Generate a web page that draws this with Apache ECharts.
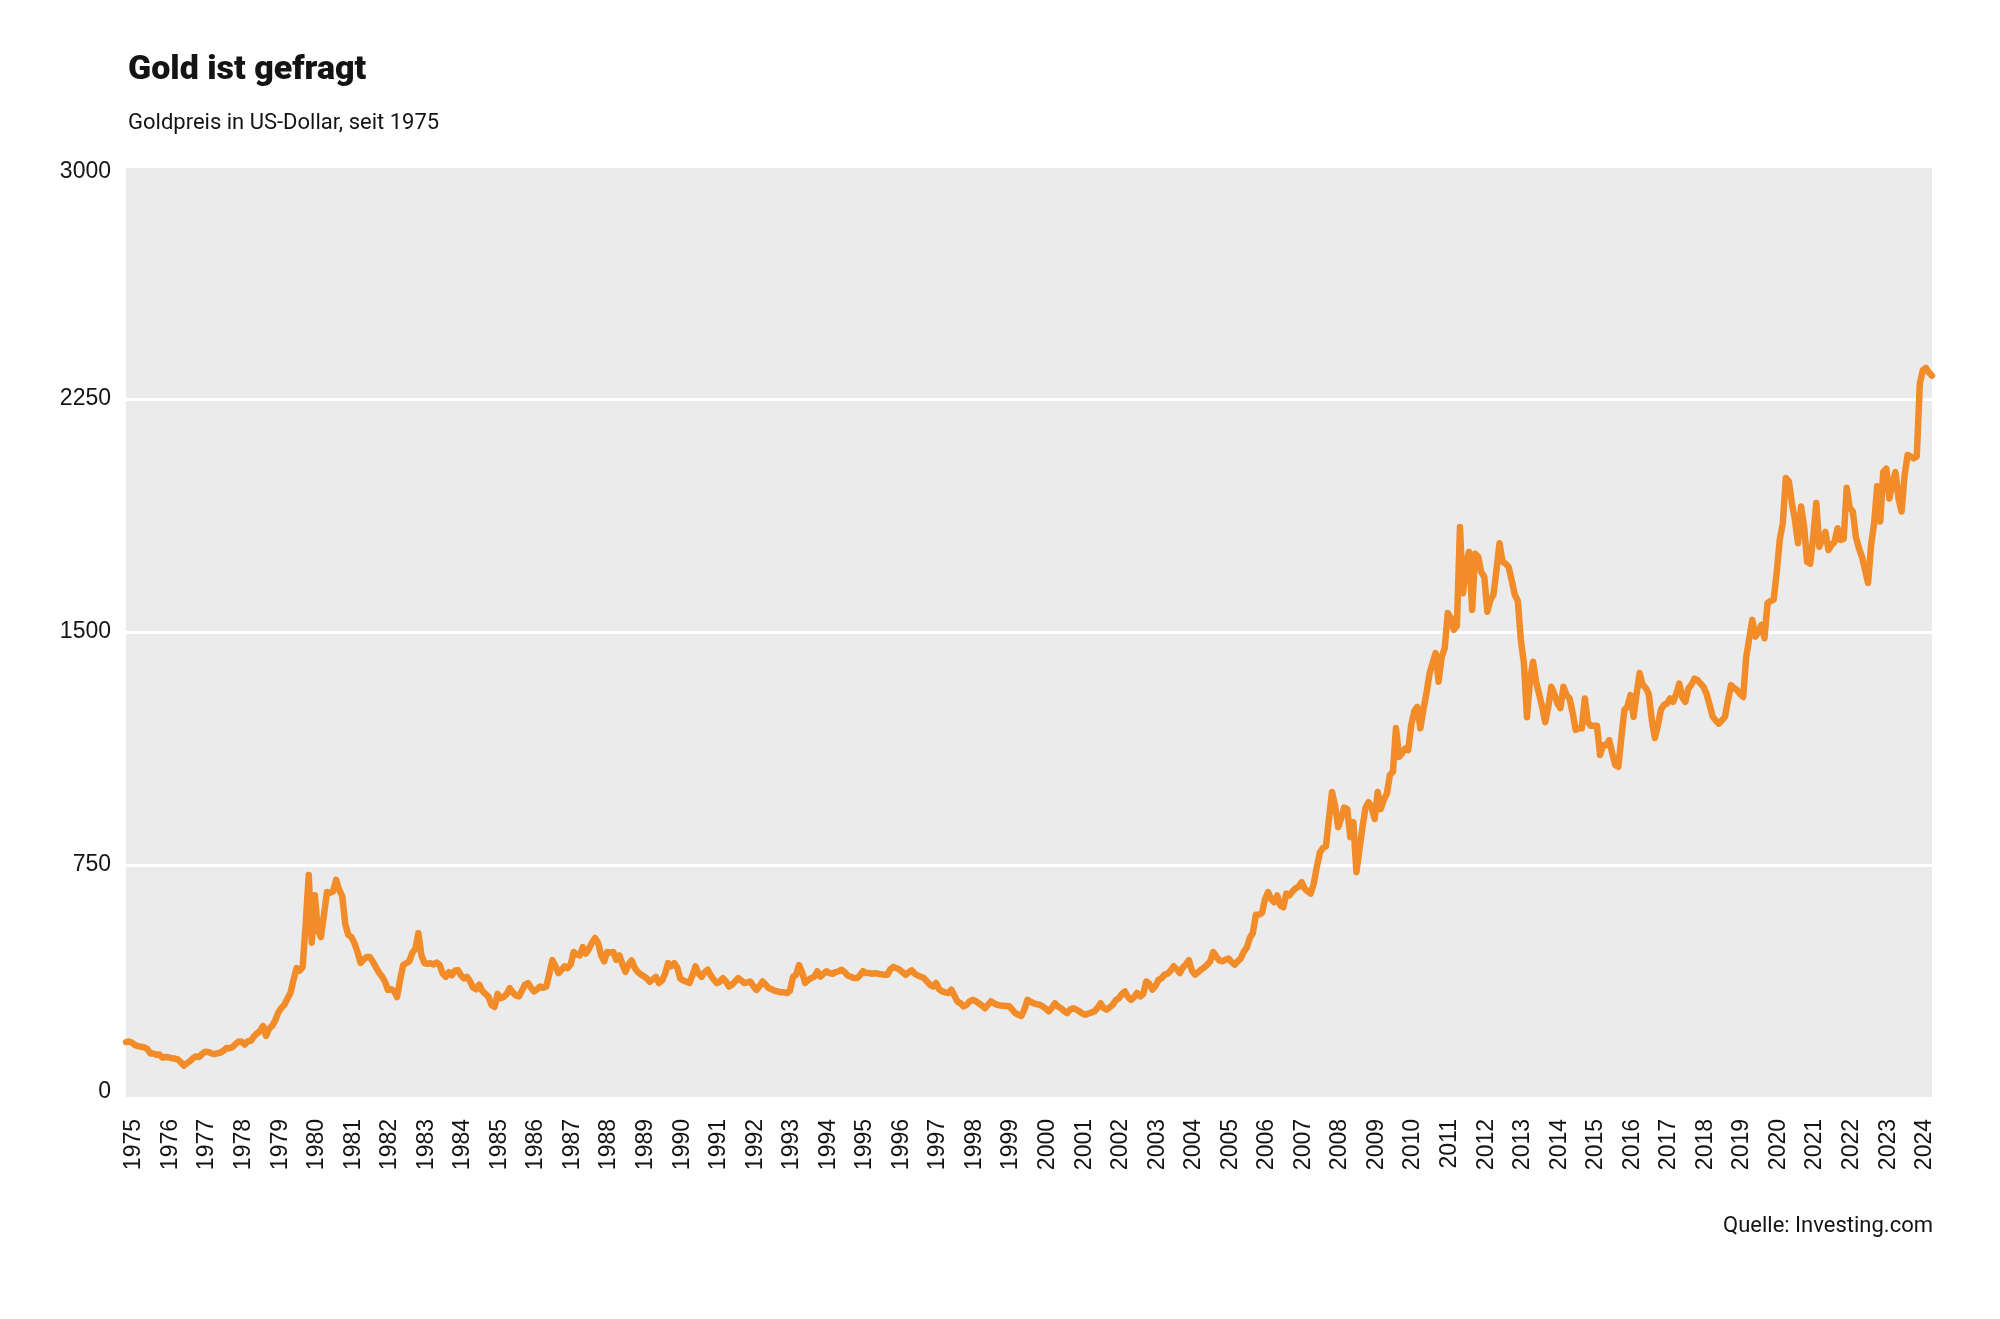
<!DOCTYPE html>
<html lang="de">
<head>
<meta charset="utf-8">
<title>Gold ist gefragt</title>
<script src="https://cdn.jsdelivr.net/npm/echarts@6/dist/echarts.min.js"></script>
<style>
  html, body { margin: 0; padding: 0; background: #fff; }
  #chart { width: 2000px; height: 1319px; }
</style>
</head>
<body>
<div id="chart"></div>
<script>
// Goldpreis in US-Dollar, Monatswerte (Jan..Dez)
const p1975 = [180, 182, 178, 170, 167, 165, 163, 158, 143, 143, 139, 140];
const p1976 = [130, 132, 131, 128, 127, 124, 115, 104, 112, 118, 128, 134];
const p1977 = [132, 142, 149, 148, 144, 141, 144, 146, 152, 161, 160, 164];
const p1978 = [174, 182, 181, 172, 183, 184, 198, 208, 216, 232, 200, 224];
const p1979 = [232, 250, 275, 290, 300, 320, 338, 380, 418, 410, 422, 560];
const p1980 = [718, 500, 653, 540, 518, 590, 663, 660, 665, 702, 670, 650];
const p1981 = [560, 525, 518, 499, 470, 435, 445, 454, 454, 440, 422, 405];
const p1982 = [392, 375, 348, 350, 345, 325, 380, 428, 434, 440, 467, 480];
const p1983 = [531, 460, 434, 432, 434, 430, 436, 428, 400, 390, 405, 395];
const p1984 = [410, 412, 395, 385, 390, 375, 355, 350, 365, 345, 335, 326];
const p1985 = [300, 293, 335, 321, 325, 335, 354, 340, 330, 327, 345, 365];
const p1986 = [370, 355, 343, 350, 359, 355, 359, 400, 444, 425, 402, 412];
const p1987 = [424, 418, 430, 470, 462, 459, 486, 465, 480, 500, 515, 500];
const p1988 = [460, 440, 470, 468, 470, 445, 459, 430, 406, 430, 443, 420];
const p1989 = [406, 398, 392, 385, 374, 382, 390, 370, 378, 400, 434, 424];
const p1990 = [434, 420, 384, 378, 374, 370, 395, 424, 400, 390, 405, 413];
const p1991 = [395, 381, 370, 375, 386, 375, 359, 365, 375, 386, 378, 370];
const p1992 = [372, 375, 360, 348, 360, 375, 365, 354, 350, 345, 343, 340];
const p1993 = [340, 338, 345, 390, 396, 428, 405, 370, 380, 386, 390, 408];
const p1994 = [391, 400, 408, 402, 400, 405, 408, 413, 405, 394, 390, 386];
const p1995 = [386, 395, 408, 402, 402, 400, 402, 400, 398, 397, 397, 415];
const p1996 = [422, 418, 413, 405, 397, 405, 411, 400, 394, 390, 386, 375];
const p1997 = [365, 359, 370, 350, 343, 340, 338, 349, 330, 310, 305, 295];
const p1998 = [300, 311, 316, 312, 305, 298, 289, 300, 311, 305, 300, 298];
const p1999 = [297, 296, 295, 285, 273, 268, 264, 285, 316, 310, 305, 302];
const p2000 = [300, 295, 288, 279, 290, 305, 295, 289, 280, 273, 285, 289];
const p2001 = [285, 279, 272, 268, 272, 275, 279, 290, 305, 290, 284, 292];
const p2002 = [300, 315, 321, 335, 343, 325, 316, 325, 338, 327, 335, 375];
const p2003 = [368, 349, 360, 380, 385, 397, 400, 410, 424, 415, 402, 420];
const p2004 = [430, 444, 410, 397, 405, 413, 420, 429, 440, 470, 455, 443];
const p2005 = [440, 445, 449, 438, 429, 440, 449, 470, 484, 515, 531, 590];
const p2006 = [590, 596, 640, 663, 640, 630, 652, 620, 614, 658, 652, 665];
const p2007 = [675, 680, 695, 674, 665, 658, 690, 743, 790, 805, 810, 900];
const p2008 = [985, 940, 872, 900, 935, 930, 840, 888, 727, 800, 872, 935];
const p2009 = [952, 935, 898, 985, 930, 960, 979, 1040, 1050, 1191, 1098, 1110];
const p2010 = [1125, 1120, 1200, 1245, 1259, 1190, 1250, 1303, 1365, 1400, 1432, 1340];
const p2011 = [1420, 1448, 1561, 1545, 1507, 1520, 1838, 1625, 1720, 1758, 1571, 1752];
const p2012 = [1742, 1693, 1677, 1565, 1603, 1620, 1700, 1786, 1726, 1720, 1709, 1666];
const p2013 = [1620, 1600, 1474, 1400, 1226, 1345, 1404, 1340, 1300, 1259, 1210, 1260];
const p2014 = [1324, 1300, 1270, 1255, 1324, 1297, 1286, 1240, 1185, 1190, 1190, 1286];
const p2015 = [1210, 1198, 1198, 1198, 1104, 1136, 1136, 1152, 1110, 1072, 1066, 1160];
const p2016 = [1249, 1260, 1297, 1227, 1300, 1368, 1330, 1320, 1300, 1217, 1159, 1200];
const p2017 = [1250, 1265, 1270, 1286, 1275, 1300, 1334, 1290, 1275, 1318, 1330, 1350];
const p2018 = [1345, 1334, 1323, 1300, 1265, 1227, 1215, 1205, 1215, 1227, 1280, 1329];
const p2019 = [1320, 1313, 1300, 1291, 1420, 1480, 1539, 1485, 1500, 1523, 1480, 1593];
const p2020 = [1600, 1604, 1690, 1796, 1850, 1996, 1985, 1915, 1860, 1786, 1904, 1840];
const p2021 = [1725, 1720, 1806, 1915, 1774, 1800, 1822, 1764, 1780, 1790, 1834, 1796];
const p2022 = [1800, 1964, 1900, 1888, 1806, 1770, 1742, 1700, 1658, 1780, 1850, 1969];
const p2023 = [1856, 2015, 2026, 1930, 1980, 2015, 1930, 1888, 2004, 2070, 2065, 2059];
const p2024 = [2065, 2300, 2343, 2350, 2335, 2325];

const firstYear = 1975;
const yTicks = [0, 750, 1500, 2250, 3000];

const priceYears = [
  p1975, p1976, p1977, p1978, p1979, p1980, p1981, p1982, p1983, p1984,
  p1985, p1986, p1987, p1988, p1989, p1990, p1991, p1992, p1993, p1994,
  p1995, p1996, p1997, p1998, p1999, p2000, p2001, p2002, p2003, p2004,
  p2005, p2006, p2007, p2008, p2009, p2010, p2011, p2012, p2013, p2014,
  p2015, p2016, p2017, p2018, p2019, p2020, p2021, p2022, p2023, p2024
];

const points = [];
priceYears.forEach((vals, i) => {
  vals.forEach((v, m) => points.push([firstYear + i + m / 12, v]));
});
const lastX = points[points.length - 1][0];

const textColor = "#141414";
const chart = echarts.init(document.getElementById("chart"));

chart.setOption({
  animation: false,
  backgroundColor: "#ffffff",
  title: [
    {
      text: "Gold ist gefragt",
      left: 128,
      top: 53,
      padding: 0,
      textStyle: { fontFamily: "Roboto", fontWeight: 900, fontSize: 34, color: textColor },
    },
    {
      text: "Goldpreis in US-Dollar, seit 1975",
      left: 128,
      top: 112,
      padding: 0,
      textStyle: { fontFamily: "Roboto", fontWeight: "normal", fontSize: 22, color: textColor },
    },
    {
      text: "Quelle: Investing.com",
      right: 67,
      top: 1215,
      padding: 0,
      textStyle: { fontFamily: "Roboto", fontWeight: "normal", fontSize: 22, color: textColor },
    },
  ],
  grid: {
    left: 126,
    right: 68,
    top: 166,
    bottom: 221,
    show: true,
    backgroundColor: "#ebebeb",
    borderWidth: 0,
  },
  xAxis: {
    type: "value",
    min: firstYear,
    max: lastX,
    interval: 1,
    axisLine: { show: false },
    axisTick: { show: false },
    splitLine: { show: false },
    axisLabel: {
      rotate: 90,
      margin: 21,
      fontSize: 23,
      fontFamily: "Liberation Sans",
      color: textColor,
      align: "right",
      verticalAlign: "top",
      lineHeight: 16,
      showMaxLabel: false,
      formatter: (v) => (Number.isInteger(v) ? String(v) : ""),
    },
  },
  yAxis: {
    type: "value",
    min: yTicks[0],
    max: yTicks[yTicks.length - 1],
    interval: yTicks[1] - yTicks[0],
    axisLine: { show: false },
    axisTick: { show: false },
    splitLine: { show: true, lineStyle: { color: "#ffffff", width: 3 } },
    axisLabel: {
      margin: 15,
      fontSize: 23,
      fontFamily: "Liberation Sans",
      color: textColor,
      formatter: (v) => {
        if (v === yTicks[yTicks.length - 1]) return "{top|" + v + "}";
        if (v === yTicks[0]) return "{bot|" + v + "}";
        return String(v);
      },
      rich: {
        top: { fontSize: 23, fontFamily: "Liberation Sans", color: textColor, padding: [12, 0, 0, 0] },
        bot: { fontSize: 23, fontFamily: "Liberation Sans", color: textColor, padding: [0, 0, 12, 0] },
      },
    },
  },
  series: [
    {
      type: "line",
      data: points,
      showSymbol: false,
      silent: true,
      lineStyle: { color: "#f28c28", width: 6.5, cap: "round", join: "round" },
    },
  ],
});
</script>
</body>
</html>
